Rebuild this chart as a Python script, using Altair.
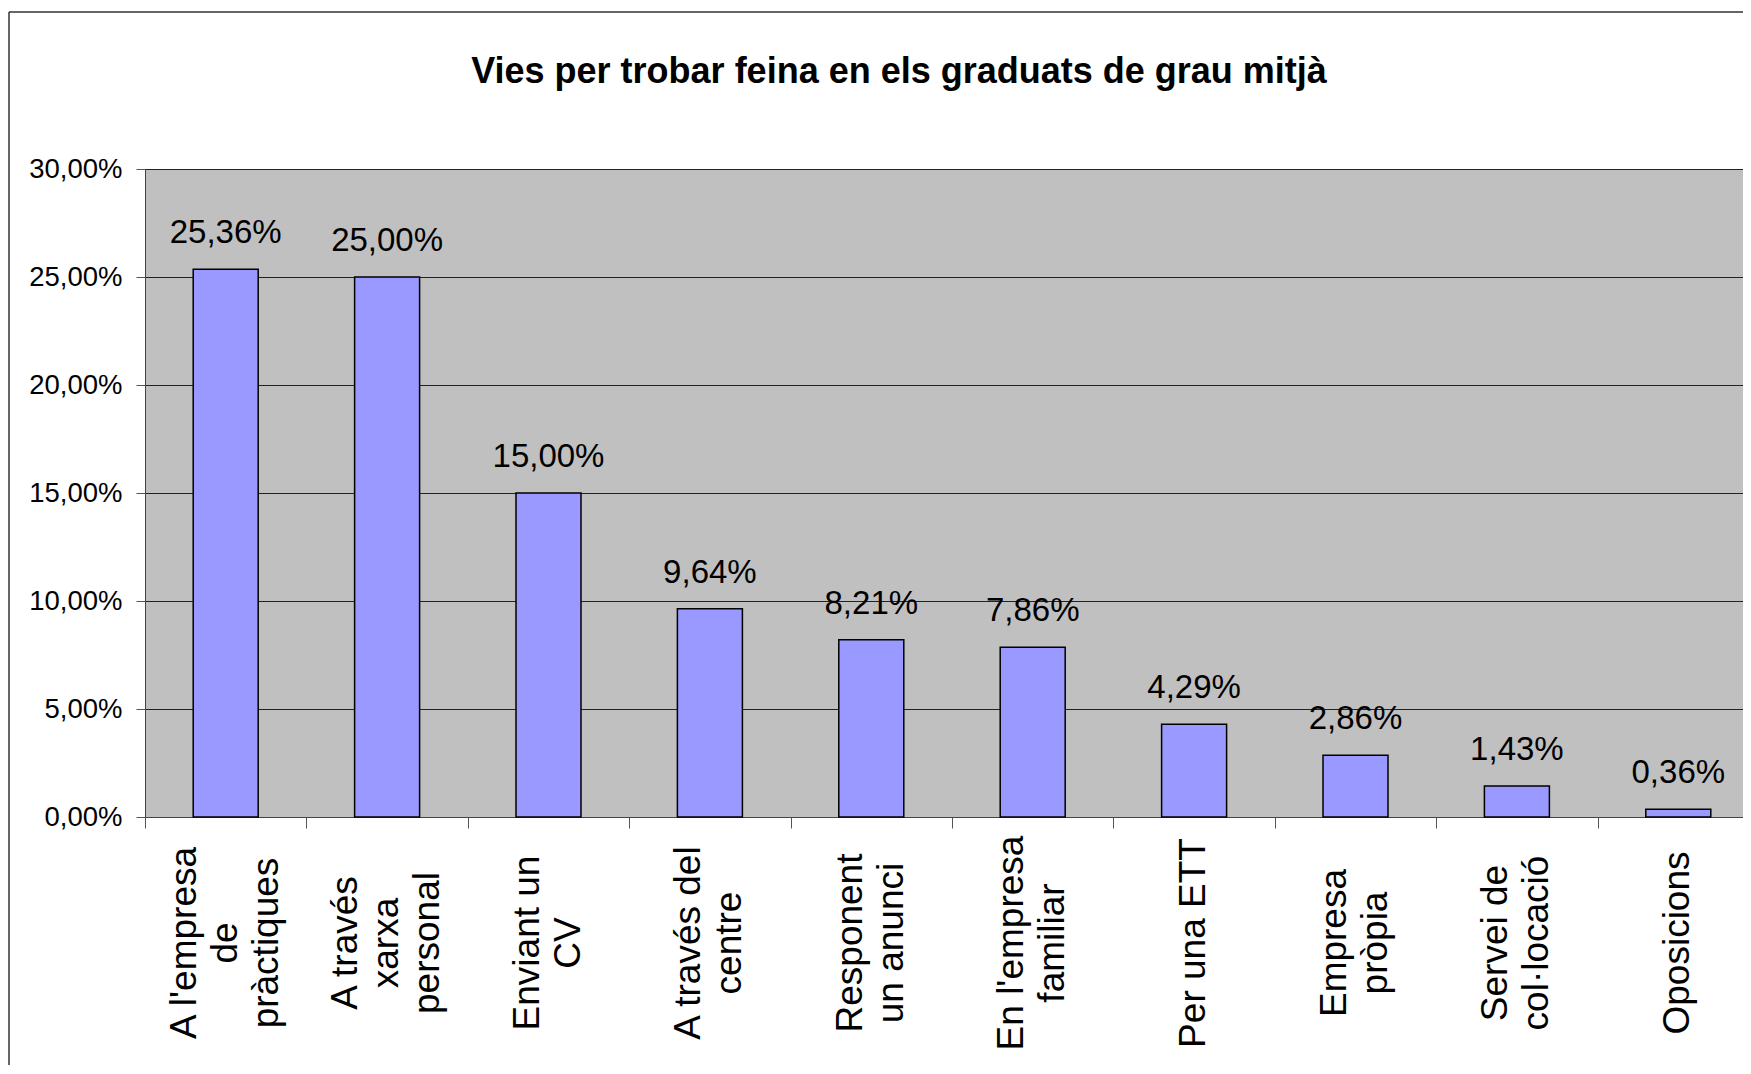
import altair as alt
import pandas as pd

categories = [
    "A l'empresa\nde\npràctiques",
    "A través\nxarxa\npersonal",
    "Enviant un\nCV",
    "A  través del\ncentre",
    "Responent\nun anunci",
    "En l'empresa\nfamiliar",
    "Per una ETT",
    "Empresa\npròpia",
    "Servei de\ncol·locació",
    "Oposicions",
]
values = [25.36, 25.00, 15.00, 9.64, 8.21, 7.86, 4.29, 2.86, 1.43, 0.36]
y_ticks = [0, 5, 10, 15, 20, 25, 30]
title_text = "Vies per trobar feina en els graduats de grau mitjà"

df = pd.DataFrame({"via": categories, "pct": values})
df["nlines"] = [c.count("\n") + 1 for c in categories]
one = pd.DataFrame({"k": [0]})

W, H = 1598, 648          # visible plot area (page is 1751 px wide)
BAND_RANGE = 1614         # the original plot area runs past the right edge
FONT = "Liberation Sans"
LH = 41

x_scale = alt.Scale(paddingInner=0, paddingOuter=0, range=[0, BAND_RANGE])

x = alt.X(
    "via:N", sort=categories, title=None, scale=x_scale,
    axis=alt.Axis(
        labels=False,
        tickBand="extent", tickSize=11, tickColor="#555", tickWidth=1,
        domainColor="#444", domainWidth=1, grid=False,
    ),
)
y = alt.Y(
    "pct:Q", title=None,
    scale=alt.Scale(domain=[0, 30], nice=False, zero=True),
    axis=alt.Axis(
        values=y_ticks,
        labelExpr="replace(format(datum.value, '.2f'), '.', ',') + '%'",
        labelFontSize=27.5, labelFont=FONT, labelColor="black", labelPadding=14,
        tickSize=9, tickColor="#555", tickWidth=1,
        domainColor="#444", domainWidth=1,
        gridColor="#222", gridWidth=1, gridOpacity=1,
    ),
)

bars = alt.Chart(df).mark_bar(size=65, color="#9999FF", stroke="black", strokeWidth=1.5).encode(x=x, y=y)

labels = alt.Chart(df).transform_calculate(
    lbl="replace(format(datum.pct, '.2f'), '.', ',') + '%'"
).mark_text(baseline="alphabetic", dy=-26, fontSize=33, font=FONT, color="black").encode(
    x=alt.X("via:N", sort=categories), y="pct:Q", text="lbl:N"
)

# category labels below the axis: rotated, multi-line, lines centred on the band
cat_layers = []
for n in (1, 2, 3):
    cat_layers.append(
        alt.Chart(df).transform_filter(f"datum.nlines == {n}").mark_text(
            angle=270, align="center", baseline="middle", lineBreak="\n",
            lineHeight=LH, fontSize=37, font=FONT, color="black",
            dy=-(n - 1) * LH / 2,
        ).encode(
            x=alt.X("via:N", sort=categories),
            y=alt.value(H + 126),
            text="via:N",
        )
    )

border_left = alt.Chart(one).mark_rule(color="#333", strokeWidth=1.5).encode(
    x=alt.value(-136), y=alt.value(-157), y2=alt.value(1000)
)
border_top = alt.Chart(one).mark_rule(color="#333", strokeWidth=1.5).encode(
    x=alt.value(-136), x2=alt.value(2000), y=alt.value(-157)
)

chart = alt.layer(border_left, border_top, bars, labels, *cat_layers).properties(
    width=W, height=H,
    title=alt.TitleParams(
        title_text, fontSize=36, font=FONT, fontWeight="bold", color="black",
        anchor="middle", frame="group", offset=0, baseline="alphabetic",
        dx=-45, dy=108,
    ),
    autosize=alt.AutoSizeParams(type="none"),
    padding={"left": 137, "top": 161, "right": 0, "bottom": 248},
    background="white",
).configure_view(fill="#C0C0C0", strokeWidth=0)

chart.save("out.html", embed_options={"renderer": "svg", "actions": False})
